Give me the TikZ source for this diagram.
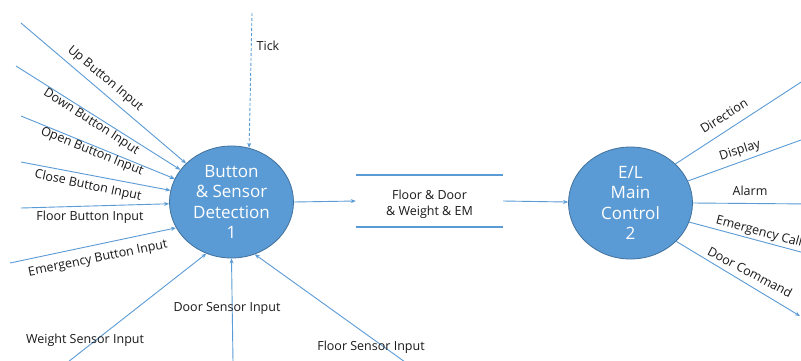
\documentclass[tikz,border=0pt]{standalone}
\usepackage{fontspec}
\setmainfont{Open Sans}
\usetikzlibrary{shapes.geometric,arrows.meta}
\definecolor{flowblue}{RGB}{91,155,213}
\definecolor{edgeblue}{RGB}{65,113,156}
\definecolor{txt}{RGB}{25,25,25}
\begin{document}
\begin{tikzpicture}[x=1pt,y=-1pt,
  proc/.style={ellipse, draw=edgeblue, line width=0.8pt, fill=flowblue,
    minimum width=124pt, minimum height=112pt, inner sep=0pt},
  proctext/.style={text=white, font=\fontsize{17}{20.5}\selectfont, align=center, inner sep=0pt},
  flow/.style={draw=flowblue, line width=0.9pt, -{Stealth[length=5pt,width=4pt]}},
  tickflow/.style={flow, dash pattern=on 3pt off 2pt},
  lbl/.style={font=\fontsize{12.5}{15}\selectfont, text=txt, inner sep=0pt},
  storebox/.style={minimum width=147pt, minimum height=52pt, inner sep=0pt},
  storetext/.style={font=\fontsize{12.5}{16}\selectfont, text=txt, align=center, inner sep=0pt},
  storeline/.style={draw=flowblue, line width=1.6pt}]
\path[use as bounding box, clip] (0,0) rectangle (801,360);
\fill[white] (0,0) rectangle (801,360);

% processes
\node[proc, label={[proctext]center:{Button\\\& Sensor\\Detection\\1}}] (c1) at (231.5,202) {};
\node[proc, label={[proctext]center:{E/L\\Main\\Control\\2}}] (c2) at (630.5,203) {};

% data store
\node[storebox, label={[storetext, yshift=-3.5pt]center:{Floor \& Door\\\& Weight \& EM}}] (store) at (429.5,201) {};
\draw[storeline] (store.north west) -- (store.north east);
\draw[storeline] (store.south west) -- (store.south east);

% input sources
\coordinate (up) at (21,23);
\coordinate (down) at (16,66);
\coordinate (open) at (21,116);
\coordinate (close) at (21,162);
\coordinate (floorb) at (21,208);
\coordinate (emb) at (10,263);
\coordinate (weight) at (68,362);
\coordinate (door) at (233,362);
\coordinate (floors) at (405,362);
\coordinate (tick) at (252,13);

\draw[flow] (up) -- (c1);
\draw[flow] (down) -- (c1);
\draw[flow] (open) -- (c1);
\draw[flow] (close) -- (c1);
\draw[flow] (floorb) -- (c1);
\draw[flow] (emb) -- (c1.205);
\draw[flow] (weight) -- (c1.244);
\draw[flow] (door) -- (c1.270);
\draw[flow] (floors) -- (c1.294);
\draw[tickflow] (tick) -- (c1.72);

% main flow
\draw[flow] (c1.east) -- (store.west);
\draw[flow] (store.east) -- (c2);

% outputs
\coordinate (dirE) at (812,75);
\coordinate (dispE) at (812,136);
\coordinate (alarmE) at (812,204);
\coordinate (emcE) at (812,255);
\coordinate (dcE) at (800,316);
\draw[flow] (c2.41) -- (dirE);
\draw[flow] (c2.21) -- (dispE);
\draw[flow] (c2.east) -- (alarmE);
\draw[flow] (c2.-18.6) -- (emcE);
\draw[flow] (c2.-40.7) -- (dcE);

% labels
\node[lbl, rotate=-40] (lup) at (105,79) {Up Button Input};
\node[lbl, rotate=-33] (ldown) at (91,122) {Down Button Input};
\node[lbl, rotate=-22] (lopen) at (92,152) {Open Button Input};
\node[lbl, rotate=-12] (lclose) at (88,186) {Close Button Input};
\node[lbl] (lfloorb) at (90,217) {Floor Button Input};
\node[lbl, rotate=11.5] (lemb) at (98,259) {Emergency Button Input};
\node[lbl] (lweight) at (85,340) {Weight Sensor Input};
\node[lbl] (ldoor) at (227,308) {Door Sensor Input};
\node[lbl] (lfloors) at (371,347) {Floor Sensor Input};
\node[lbl] (ltick) at (268,46) {Tick};
\node[lbl, rotate=32] (ldir) at (724,116) {Direction};
\node[lbl, rotate=18] (ldisp) at (740,151) {Display};
\node[lbl] (lalarm) at (750,191) {Alarm};
\node[lbl, rotate=-15] (lemc) at (759,232) {Emergency Call};
\node[lbl, rotate=-28] (ldc) at (750,272) {Door Command};
\end{tikzpicture}
\end{document}
